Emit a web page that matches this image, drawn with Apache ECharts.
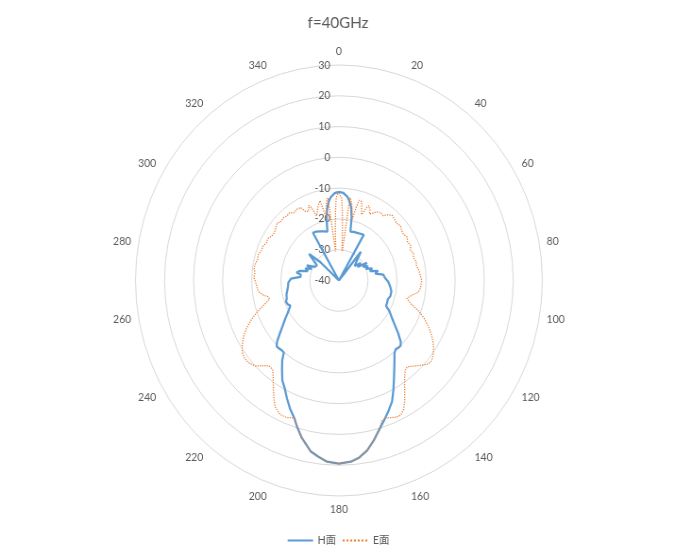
<!DOCTYPE html>
<html>
<head>
<meta charset="utf-8">
<title>f=40GHz</title>
<script src="https://cdn.jsdelivr.net/npm/echarts@6/dist/echarts.min.js"></script>
<style>
html, body { margin: 0; padding: 0; background: #fff; }
#wrap { position: relative; width: 676px; height: 557px; overflow: hidden; }
#frame { position: absolute; left: 0; top: 0; width: 670px; height: 553px;
         border-right: 1px solid #d9d9d9; border-bottom: 1px solid #d9d9d9; }
/* 原图横向被压缩过，这里用同样的比例缩放 */
#main { position: absolute; left: 0; top: 0; width: 716px; height: 557px;
        transform: scaleX(0.944); transform-origin: 0 0; }
</style>
</head>
<body>
<div id="wrap"><div id="frame"></div><div id="main"></div></div>
<script>
// 角度 (度) 与增益 (dB)
var hAngles = [0,3,6,8,10,12,14,18,22,26,
	30,33,39,44,49,53,56,59,62,65,
	68,71,74,77,80,83,87,91,96,101,
	106,110,114,117,120,124,127,130,133,135,
	137,139,141,143,146,149,152,155,158,161,
	164,167,170,173,176,180,184,187,190,194,
	197,199,202,205,208,211,214,217,219,221,
	223,225,227,230,233,236,239,242,244,246,
	249,252,256,260,264,268,272,275,278,280,
	283,286,289,292,294,298,303,310,313,317,
	330,334,338,342,346,348,350,352,354,357,
	360];
var hValues = [-11.2,-11.5,-12.6,-14,-15.8,-19,-23.6,-23.4,-23.3,-23.1,
	-22.9,-40,-28.0,-31.2,-32.8,-30.6,-32.2,-28.8,-30.6,-29.0,
	-30.0,-27.9,-28.9,-26.2,-27.3,-24.6,-24.1,-23.1,-22.3,-21.6,
	-21.6,-22.1,-21.9,-21.8,-19.9,-17.9,-15.9,-13.4,-10.9,-10.0,
	-10.1,-10.3,-9.6,-8.2,-5.9,-3.2,0.0,3.3,5.6,7.9,
	10.4,13.3,16.0,17.9,19.0,19.5,19.0,17.7,16.3,12.7,
	9.5,7.2,4.9,2.3,-0.3,-2.2,-5.0,-7.6,-9.9,-10.0,
	-9.8,-9.7,-10.9,-13.6,-15.9,-17.7,-19.4,-20.7,-21.4,-20.8,
	-20.5,-21.1,-21.4,-22.0,-22.4,-22.6,-23.5,-26.7,-26.8,-25.2,
	-26.1,-28.9,-27.8,-29.9,-27.9,-30.6,-31.0,-26.6,-31.2,-40,
	-22.1,-22.3,-22.8,-23.2,-23.6,-19.5,-16.5,-14.3,-12.8,-11.6,
	-11.2];

var eAngles = [0,1,2,3,4,5,6,7,8,9,
	10,11,12,13,14,15,16,17,18,19,
	20,21,22,23,24,25,26,
	28,30,33,36,38,41,44,47,50,53,
	56,59,62,65,68,71,74,77,80,83,
	86,90,95,98,101,104,107,110,113,116,
	119,122,125,128,130,132,134,136,138,140,
	142,144,146,148,150,152,154,156,158,160,
	162,164,167,170,173,176,180,184,187,190,
	194,197,199,202,205,208,210,213,216,218,
	220,222,224,226,229,232,235,238,241,244,
	247,250,253,256,258,260,263,266,269,272,
	275,278,281,284,287,290,293,296,299,302,
	305,308,311,314,317,320,322,325,328,331,
	333,335,337,338,340,342,344,346,347,348,
	349,350,351,352,353,354,355,356,357,358,
	359,360];
var eValues = [-11.6,-12.0,-13.2,-17.5,-22.5,-26.5,-29.5,-30.5,-12.8,-13.0,
	-14.5,-16.5,-18.5,-19.5,-15.5,-13.0,-12.6,-13.2,-14.5,-16.0,
	-17.2,-16.0,-14.3,-13.6,-13.8,-14.8,-16.0,
	-15.3,-14.2,-13.7,-14.0,-12.9,-12.0,-12.4,-12.8,-12.3,-13.0,
	-13.2,-12.6,-13.3,-12.8,-13.5,-12.9,-13.3,-12.7,-12.9,-12.3,
	-12.0,-11.5,-11.8,-12.4,-14.6,-15.9,-14.1,-10.7,-8.0,-5.7,
	-3.6,-1.7,-0.2,0.9,1.2,0.7,-0.4,-1.5,-2.5,-3.4,
	-3.0,-1.5,0.4,2.7,5.3,7.4,8.6,8.6,8.0,7.5,
	7.9,10.4,13.3,16.0,17.9,19.0,19.5,19.0,17.7,16.3,
	12.7,9.5,7.2,8.0,8.0,6.6,4.7,1.4,-1.5,-3.0,
	-3.4,-2.8,-1.5,0.0,0.9,1.2,0.6,-0.8,-2.5,-4.6,
	-7.2,-10.0,-13.1,-15.5,-14.9,-13.3,-12.0,-11.7,-11.3,-10.7,
	-11.0,-10.5,-10.8,-11.2,-11.0,-11.6,-11.6,-12.2,-12.0,-12.7,
	-12.9,-12.4,-11.8,-12.3,-12.1,-12.4,-12.2,-13.1,-12.7,-12.9,
	-14.9,-15.2,-13.5,-14.3,-17.7,-16.0,-14.5,-13.3,-12.8,-19.3,
	-17.0,-15.0,-13.5,-12.9,-30.5,-29.5,-26.5,-22.5,-17.5,-13.2,
	-12.0,-11.6];

var seriesNames = ['H面', 'E面'];
var radiusTicks = { min: -40, max: 30, step: 10 };
var angleTicks = { min: 0, max: 360, step: 20 };

var fontFamily = 'Lato, "Noto Sans CJK SC", sans-serif';
var textColor = '#595959';

function toPolar(angles, values) {
	var arr = [];
	for (var i = 0; i < angles.length; i++) {
		arr.push([values[i], angles[i]]);
	}
	return arr;
}

var myChart = echarts.init(document.getElementById('main'));
var option = {
	backgroundColor: '#fff',
	animation: false,
	title: {
		text: 'f=40GHz',
		left: 'center',
		top: 10,
		textStyle: {
			color: textColor,
			fontSize: 16,
			fontWeight: 'normal',
			fontFamily: fontFamily
		}
	},
	legend: {
		data: seriesNames,
		left: 'center',
		top: 530,
		itemWidth: 27,
		itemHeight: 11,
		itemGap: 6,
		// 图例只画线，不画圆点
		itemStyle: { opacity: 0 },
		textStyle: {
			color: textColor,
			fontSize: 11,
			fontFamily: fontFamily
		}
	},
	polar: {
		center: [359, 280.5],
		radius: 215.5
	},
	angleAxis: {
		type: 'value',
		min: angleTicks.min,
		max: angleTicks.max,
		interval: angleTicks.step,
		startAngle: 90,
		clockwise: true,
		axisLine: { show: false },
		axisTick: { show: false },
		splitLine: { show: false },
		axisLabel: {
			color: textColor,
			fontSize: 11,
			fontFamily: fontFamily,
			margin: 8,
			formatter: function (v) { return v === 360 ? '' : v; }
		}
	},
	radiusAxis: {
		type: 'value',
		min: radiusTicks.min,
		max: radiusTicks.max,
		interval: radiusTicks.step,
		axisLine: { show: false },
		axisTick: { show: false },
		splitLine: { lineStyle: { color: '#d9d9d9', width: 1 } },
		axisLabel: {
			color: textColor,
			fontSize: 11,
			fontFamily: fontFamily,
			margin: 9
		}
	},
	series: [{
		name: seriesNames[0],
		type: 'line',
		coordinateSystem: 'polar',
		symbol: 'none',
		showSymbol: false,
		lineStyle: { color: '#5B9BD5', width: 2.25 },
		itemStyle: { color: '#5B9BD5' },
		data: toPolar(hAngles, hValues)
	}, {
		name: seriesNames[1],
		type: 'line',
		coordinateSystem: 'polar',
		symbol: 'none',
		showSymbol: false,
		lineStyle: { color: '#ED7D31', width: 1.25, type: 'dotted' },
		itemStyle: { color: '#ED7D31' },
		data: toPolar(eAngles, eValues)
	}]
};
myChart.setOption(option);
</script>
</body>
</html>
